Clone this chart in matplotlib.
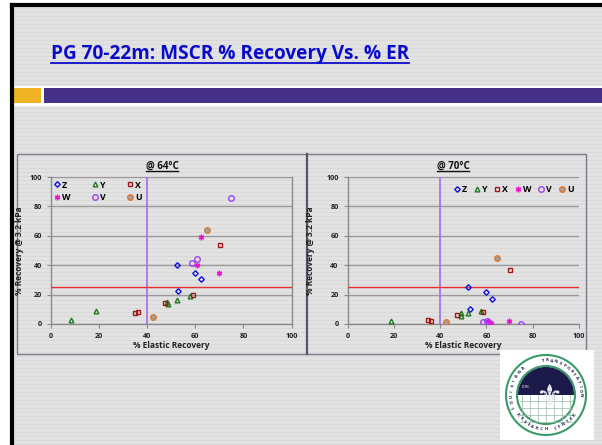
import numpy as np
import matplotlib
matplotlib.use("Agg")
import matplotlib.pyplot as plt
from matplotlib.patches import Rectangle, Circle, Wedge

plt.rcParams['font.family'] = ['Open Sans', 'DejaVu Sans']

# --- данные @ 64°C ---
series_names = ["Z", "Y", "X", "W", "V", "U"]
er_64 = {
    "Z": [52.3, 59.8, 62.2, 53.0],
    "Y": [8.3, 18.8, 48.4, 48.8, 52.3, 57.8],
    "X": [35.0, 36.0, 47.4, 58.9, 70.4],
    "W": [62.2, 60.6, 70.0],
    "V": [75.0, 60.6, 58.6],
    "U": [64.7, 42.3],
}
rec_64 = {
    "Z": [39.8, 34.5, 30.7, 22.7],
    "Y": [2.5, 8.9, 15.0, 13.4, 16.1, 19.3],
    "X": [7.7, 8.4, 14.1, 19.8, 53.6],
    "W": [59.1, 40.0, 34.5],
    "V": [85.9, 44.5, 41.8],
    "U": [63.9, 5.0],
}
# --- данные @ 70°C ---
er_70 = {
    "Z": [52.2, 59.7, 62.2, 52.9],
    "Y": [18.7, 48.8, 49.0, 52.2, 57.8],
    "X": [34.7, 35.8, 47.3, 58.7, 70.2],
    "W": [60.8, 62.0, 69.9],
    "V": [58.6, 60.3, 75.0],
    "U": [64.7, 42.4],
}
rec_70 = {
    "Z": [25.0, 21.6, 17.0, 10.2],
    "Y": [2.0, 7.3, 5.7, 7.5, 8.6],
    "X": [2.5, 2.3, 6.4, 8.2, 37.0],
    "W": [2.0, 0.9, 2.0],
    "V": [1.4, 2.0, 0.0],
    "U": [45.2, 1.1],
}
er_limit = 40
rec_limit = 25

styles = {
    "Z": dict(marker="D", mec="#1010E0", mfc="none", ms=2.8),
    "Y": dict(marker="^", mec="#1E7A1E", mfc="none", ms=3.4),
    "X": dict(marker="s", mec="#A01818", mfc="none", ms=3.2),
    "W": dict(marker=(6, 2, 0), mec="#F010D0", mfc="#F010D0", ms=4),
    "V": dict(marker="o", mec="#A040F0", mfc="none", ms=4),
    "U": dict(marker="o", mec="#E07830", mfc="#A0A0A0", ms=4),
}

W, H = 602, 445
fig = plt.figure(figsize=(W / 100, H / 100), dpi=100)
fig.patch.set_facecolor("white")

# фон слайда
bg = fig.add_axes([0, 0, 1, 1], zorder=-10)
bg.set_xlim(0, W)
bg.set_ylim(H, 0)
bg.axis("off")
bg.add_patch(Rectangle((12, 5), W - 12, H - 5, fc="#E3E3E3", ec="none", zorder=0))
for yy in np.arange(8, H, 4):
    bg.plot([12, W], [yy, yy], color="#D9D9D9", lw=0.8, zorder=0.5)
bg.plot([12, W], [5, 5], color="black", lw=3, zorder=6)
bg.plot([12, 12], [5, H], color="black", lw=3, zorder=6)
bg.add_patch(Rectangle((13, 86), W, 20, fc="white", ec="none", zorder=3))
bg.add_patch(Rectangle((13, 88), 28, 14.5, fc="#F0B323", ec="none", zorder=4))
bg.add_patch(Rectangle((44, 88), W, 14.5, fc="#463188", ec="none", zorder=4))
# рамка диаграмм
bg.add_patch(Rectangle((17, 154), 569, 200, fc="none", ec="#7A7A8A", lw=1, zorder=4))
bg.plot([307, 307], [154, 354], color="#555566", lw=1.6, zorder=4)

# логотип (упрощённо)
bg.add_patch(Rectangle((500, 350), 94, 90, fc="white", ec="none", zorder=4))
cx, cy = 546, 395
bg.add_patch(Circle((cx, cy), 40, fc="white", ec="#3A9A6A", lw=1.5, zorder=5))
bg.add_patch(Circle((cx, cy), 29, fc="white", ec="#3A9A6A", lw=1.5, zorder=5))
bg.add_patch(Wedge((cx, cy), 28, 180, 360, fc="#1B1A4A", ec="none", zorder=5))
for gx in np.arange(cx - 24, cx + 26, 8):
    bg.plot([gx, gx], [cy, cy + 26], color="#9AB8A8", lw=0.5, zorder=5)
for gy in np.arange(cy + 6, cy + 28, 7):
    bg.plot([cx - 26, cx + 26], [gy, gy], color="#9AB8A8", lw=0.5, zorder=5)
bg.text(cx + 3, cy + 2, "\u269C", fontsize=22, color="#E8E8F0", ha="center", va="center",
        family="DejaVu Sans", zorder=6)
bg.text(cx - 20, cy - 8, "LTRC", fontsize=2.6, color="white", ha="center", va="center", zorder=6)
ring_top = "TRANSPORTATION"
ring_left = "LOUISIANA"
ring_bot = "RESEARCH CENTER"
for i, ch in enumerate(ring_top):
    ang = np.deg2rad(95 - i * 95 / (len(ring_top) - 1))
    bg.text(cx + 34.5 * np.cos(ang), cy - 34.5 * np.sin(ang), ch, fontsize=3.2, fontweight="bold",
            color="#1B1A4A", ha="center", va="center", rotation=np.rad2deg(ang) - 90, zorder=6)
for i, ch in enumerate(ring_left):
    ang = np.deg2rad(200 - i * 70 / (len(ring_left) - 1))
    bg.text(cx + 34.5 * np.cos(ang), cy - 34.5 * np.sin(ang), ch, fontsize=3.2, fontweight="bold",
            color="#1B1A4A", ha="center", va="center", rotation=np.rad2deg(ang) - 90, zorder=6)
for i, ch in enumerate(ring_bot):
    ang = np.deg2rad(215 + i * 110 / (len(ring_bot) - 1))
    bg.text(cx + 34.5 * np.cos(ang), cy - 34.5 * np.sin(ang), ch, fontsize=3.2, fontweight="bold",
            color="#1B1A4A", ha="center", va="center", rotation=np.rad2deg(ang) + 90, zorder=6)

# заголовок с подчёркиванием
title = fig.text(51 / W, 1 - 59 / H, "PG 70-22m: MSCR % Recovery Vs. % ER", fontsize=13.7,
                 fontweight="bold", color="#0A0ACC", ha="left", va="baseline")
fig.canvas.draw()
bb = title.get_window_extent().transformed(fig.transFigure.inverted())
fig.add_artist(plt.Line2D([bb.x0, bb.x1], [1 - 62.5 / H] * 2, color="#0A0ACC", lw=1.3,
                          transform=fig.transFigure))


def draw_panel(ax, er, rec, ttl, tx, order, legend_kw):
    handles = {}
    for name in series_names:
        h, = ax.plot(er[name], rec[name], ls="none", mew=1.0, label=name, zorder=5,
                     **styles[name])
        handles[name] = h
    ax.axvline(er_limit, color="#B070F0", lw=1.3, zorder=3)
    ax.axhline(rec_limit, color="#E83030", lw=1.0, zorder=3)
    ax.set_xlim(0, 100)
    ax.set_ylim(0, 100)
    ax.set_xticks(range(0, 101, 20))
    ax.set_yticks(range(0, 101, 20))
    ax.patch.set_alpha(0)
    ax.grid(axis="y", color="#9A9A9A", lw=1.0)
    ax.set_axisbelow(True)
    for s in ["left", "bottom", "right"]:
        ax.spines[s].set_color("#8A8A8A")
        ax.spines[s].set_linewidth(1.0)
    ax.spines["top"].set_visible(False)
    ax.tick_params(labelsize=5.2, colors="#8A8A8A", labelcolor="#222222", length=3, width=0.8)
    for lab in ax.get_xticklabels() + ax.get_yticklabels():
        lab.set_fontweight("bold")
    ax.set_xlabel("% Elastic Recovery", fontsize=6, fontweight="bold", labelpad=1, color="#222222")
    ax.set_ylabel("% Recovery @ 3.2 kPa", fontsize=6, fontweight="bold", labelpad=4,
                  color="#222222")
    t = fig.text(tx / W, 1 - 169 / H, ttl, fontsize=7, fontweight="bold", ha="center",
                 va="baseline", color="#111111")
    fig.canvas.draw()
    tb = t.get_window_extent().transformed(fig.transFigure.inverted())
    fig.add_artist(plt.Line2D([tb.x0, tb.x1], [1 - 171 / H] * 2, color="#111111", lw=1.0,
                              transform=fig.transFigure))
    leg = ax.legend(handles=[handles[n] for n in order], prop=dict(size=6.3, weight="bold"),
                    fancybox=False, framealpha=0, edgecolor="#808080", handlelength=0.5,
                    handletextpad=0.3, **legend_kw)
    leg.get_frame().set_linewidth(1.0)


ax1 = fig.add_axes([51 / W, 1 - 324 / H, 240.5 / W, 147 / H])
draw_panel(ax1, er_64, rec_64, "@ 64°C", 162, ["Z", "W", "Y", "V", "X", "U"],
           dict(ncol=3, loc="upper left", bbox_to_anchor=(0, 1.0), columnspacing=2.6,
                labelspacing=0.35, borderpad=0.4, borderaxespad=0))
ax2 = fig.add_axes([347.7 / W, 1 - 324 / H, 231.3 / W, 147 / H])
draw_panel(ax2, er_70, rec_70, "@ 70°C", 453, series_names,
           dict(ncol=6, loc="upper right", bbox_to_anchor=(1.01, 1.0), columnspacing=0.9,
                borderpad=0.9, borderaxespad=0))
ax2.spines["right"].set_visible(False)
ax2.set_ylabel("% Recovery @ 3.2 kPa", fontsize=6, fontweight="bold", labelpad=8,
               color="#222222")

fig.savefig("out.png", dpi=100)
